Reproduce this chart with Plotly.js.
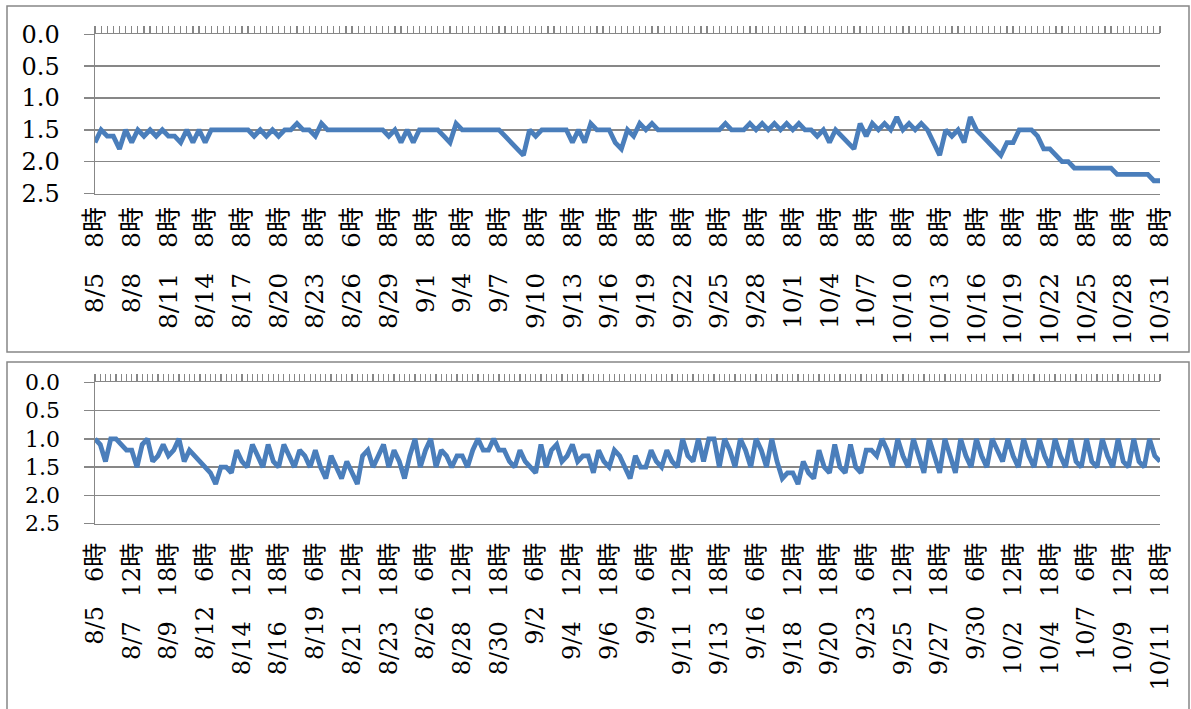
<!DOCTYPE html>
<html>
<head>
<meta charset="utf-8">
<script src="https://cdn.plot.ly/plotly-3.0.1.min.js"></script>
<style>
html, body { margin: 0; padding: 0; background: #ffffff; }
#chart { width: 1191px; height: 709px; }
</style>
</head>
<body>
<div id="chart"></div>
<script>
// ---------- data ----------
const topLabels = [
  "8/5　8時", "8/8　8時", "8/11　8時", "8/14　8時", "8/17　8時", "8/20　8時",
  "8/23　8時", "8/26　6時", "8/29　8時", "9/1　8時", "9/4　8時", "9/7　8時",
  "9/10　8時", "9/13　8時", "9/16　8時", "9/19　8時", "9/22　8時", "9/25　8時",
  "9/28　8時", "10/1　8時", "10/4　8時", "10/7　8時", "10/10　8時", "10/13　8時",
  "10/16　8時", "10/19　8時", "10/22　8時", "10/25　8時", "10/28　8時", "10/31　8時"
];
const topLabelStep = 6;
const topValues = [
  1.7,1.5,1.6,1.6,1.8,1.5,1.7,1.5,1.6,1.5,1.6,1.5,1.6,1.6,1.7,1.5,1.7,1.5,1.7,1.5,
  1.5,1.5,1.5,1.5,1.5,1.5,
  1.6,1.5,1.6,1.5,1.6,1.5,1.5,1.4,1.5,1.5,1.6,1.4,1.5,
  1.5,1.5,1.5,1.5,1.5,1.5,1.5,1.5,1.5,
  1.6,1.5,
  1.7,1.5,1.7,1.5,1.5,1.5,1.5,
  1.6,1.7,1.4,1.5,
  1.5,1.5,1.5,1.5,1.5,1.5,
  1.6,1.7,1.8,1.9,
  1.5,1.6,1.5,
  1.5,1.5,1.5,1.5,
  1.7,1.5,1.7,1.4,1.5,
  1.5,1.5,
  1.7,1.8,1.5,1.6,1.4,1.5,1.4,1.5,
  1.5,1.5,1.5,1.5,1.5,1.5,1.5,1.5,1.5,1.5,
  1.4,1.5,1.5,1.5,1.4,1.5,1.4,1.5,
  1.4,1.5,1.4,1.5,1.4,1.5,1.5,1.6,1.5,1.7,
  1.5,1.6,1.7,1.8,1.4,1.6,1.4,1.5,1.4,1.5,
  1.3,1.5,1.4,1.5,1.4,1.5,1.7,1.9,1.5,1.6,
  1.5,1.7,1.3,1.5,1.6,1.7,1.8,1.9,1.7,1.7,
  1.5,1.5,1.5,1.6,1.8,1.8,1.9,2.0,2.0,2.1,
  2.1,2.1,2.1,2.1,2.1,2.1,2.2,2.2,2.2,2.2,
  2.2,2.2,2.3,2.3
];

const bottomLabels = [
  "8/5　6時", "8/7　12時", "8/9　18時", "8/12　6時", "8/14　12時", "8/16　18時",
  "8/19　6時", "8/21　12時", "8/23　18時", "8/26　6時", "8/28　12時", "8/30　18時",
  "9/2　6時", "9/4　12時", "9/6　18時", "9/9　6時", "9/11　12時", "9/13　18時",
  "9/16　6時", "9/18　12時", "9/20　18時", "9/23　6時", "9/25　12時", "9/27　18時",
  "9/30　6時", "10/2　12時", "10/4　18時", "10/7　6時", "10/9　12時", "10/11　18時"
];
const bottomLabelStep = 7;
const bottomValues = [
  1.0,1.1,1.4,1.0,1.0,1.1,1.2,1.2,1.5,1.1,
  1.0,1.4,1.3,1.1,1.3,1.2,1.0,1.4,1.2,1.3,
  1.4,1.5,1.6,1.8,1.5,1.5,1.6,1.2,1.4,1.5,
  1.1,1.3,1.5,1.1,1.4,1.5,1.1,1.3,1.5,1.2,
  1.3,1.5,1.2,1.5,1.7,1.3,1.5,1.7,1.4,1.6,
  1.8,1.3,1.2,1.5,1.3,1.1,1.5,1.2,1.4,1.7,
  1.3,1.0,1.5,1.2,1.0,1.5,1.2,1.3,1.5,1.3,
  1.3,1.5,1.2,1.0,1.2,1.2,1.0,1.2,1.2,1.4,
  1.5,1.2,1.4,1.5,1.6,1.1,1.5,1.2,1.1,1.4,
  1.3,1.1,1.4,1.3,1.3,1.6,1.2,1.4,1.5,1.2,
  1.3,1.5,1.7,1.3,1.5,1.5,1.2,1.4,1.5,1.2,
  1.4,1.5,1.0,1.3,1.4,1.0,1.4,1.0,1.0,1.5,
  1.0,1.2,1.5,1.0,1.2,1.5,1.0,1.2,1.5,1.0,
  1.4,1.7,1.6,1.6,1.8,1.4,1.6,1.7,1.2,1.5,
  1.6,1.1,1.5,1.6,1.1,1.5,1.6,1.2,1.2,1.3,
  1.0,1.2,1.5,1.0,1.3,1.5,1.0,1.3,1.6,1.0,
  1.3,1.6,1.0,1.3,1.6,1.0,1.3,1.5,1.0,1.3,
  1.5,1.0,1.2,1.4,1.0,1.3,1.5,1.0,1.3,1.5,
  1.0,1.3,1.5,1.0,1.3,1.5,1.0,1.4,1.5,1.0,
  1.4,1.5,1.0,1.3,1.5,1.0,1.4,1.5,1.0,1.4,
  1.5,1.0,1.3,1.4
];

// ---------- drawing ----------
const W = 1191, H = 709;
const px = x => x / W;
const py = y => 1 - y / H;
const serif = 'DejaVu Serif, Noto Sans CJK JP, serif';
const gray = '#878787';
const blue = '#4A7EBB';

const topX = topValues.map((_, i) => i);
const bottomX = bottomValues.map((_, i) => i);
const topTickVals = topLabels.map((_, k) => k * topLabelStep);
const bottomTickVals = bottomLabels.map((_, k) => k * bottomLabelStep);

// axis carrying the line: category tick marks on the top edge (value 0.0 is on top)
function tickAxis(domain, anchor, n) {
  return {
    domain: domain, anchor: anchor, side: 'top', type: 'linear',
    range: [0, n - 1], tickmode: 'linear', tick0: 0, dtick: 1,
    ticks: 'outside', ticklen: 7, tickwidth: 1.2, tickcolor: gray,
    showticklabels: false, showline: true, linecolor: gray, linewidth: 1.5,
    showgrid: false, zeroline: false, fixedrange: true
  };
}
// overlaid axis carrying the rotated labels at the bottom edge
function labelAxis(domain, anchor, overlay, n, tickvals, ticktext, size, standoff) {
  return {
    domain: domain, anchor: anchor, overlaying: overlay, side: 'bottom', type: 'linear',
    range: [0, n - 1], tickmode: 'array', tickvals: tickvals, ticktext: ticktext,
    tickangle: -90, ticks: '', showline: true, linecolor: gray, linewidth: 1.5,
    showgrid: false, zeroline: false,
    tickfont: { family: serif, size: size, color: '#000' },
    ticklabelstandoff: standoff, fixedrange: true
  };
}
function valueAxis(domain, anchor, fontSize) {
  return {
    domain: domain, anchor: anchor, range: [2.5, 0], tickmode: 'linear', tick0: 0, dtick: 0.5,
    tickformat: '.1f', ticks: 'outside', ticklen: 10, tickwidth: 1.5, tickcolor: gray,
    showline: true, linecolor: gray, linewidth: 1.5,
    showgrid: true, gridcolor: gray, gridwidth: 1.5, zeroline: false,
    tickfont: { family: serif, size: fontSize, color: '#000' },
    ticklabelstandoff: 19, fixedrange: true
  };
}

const xDom = [px(95), px(1160)];
const topYDom = [py(193.5), py(34.3)];
const botYDom = [py(523.7), py(382.3)];

const lineStyle = { color: blue, width: 4.8 };
const hidden = { color: 'rgba(0,0,0,0)', width: 0 };
const data = [
  { x: topX, y: topValues, xaxis: 'x', yaxis: 'y', type: 'scatter', mode: 'lines',
    line: lineStyle, hoverinfo: 'skip', showlegend: false },
  { x: topX, y: topValues, xaxis: 'x2', yaxis: 'y', type: 'scatter', mode: 'lines',
    line: hidden, hoverinfo: 'skip', showlegend: false },
  { x: bottomX, y: bottomValues, xaxis: 'x3', yaxis: 'y2', type: 'scatter', mode: 'lines',
    line: lineStyle, hoverinfo: 'skip', showlegend: false },
  { x: bottomX, y: bottomValues, xaxis: 'x4', yaxis: 'y2', type: 'scatter', mode: 'lines',
    line: hidden, hoverinfo: 'skip', showlegend: false }
];

const layout = {
  width: W, height: H,
  margin: { l: 0, r: 0, t: 0, b: 0 },
  paper_bgcolor: '#ffffff', plot_bgcolor: 'rgba(0,0,0,0)',
  font: { family: serif, color: '#000' },
  showlegend: false,
  xaxis: tickAxis(xDom, 'y', topValues.length),
  xaxis2: labelAxis(xDom, 'y', 'x', topValues.length, topTickVals, topLabels, 25, 2),
  yaxis: valueAxis(topYDom, 'x', 24),
  xaxis3: tickAxis(xDom, 'y2', bottomValues.length),
  xaxis4: labelAxis(xDom, 'y2', 'x3', bottomValues.length, bottomTickVals, bottomLabels, 24, 8),
  yaxis2: valueAxis(botYDom, 'x3', 22),
  shapes: [
    { type: 'rect', xref: 'paper', yref: 'paper', x0: px(7), x1: px(1189), y0: py(352), y1: py(6),
      line: { color: gray, width: 1.5 }, fillcolor: 'rgba(0,0,0,0)', layer: 'below' },
    { type: 'rect', xref: 'paper', yref: 'paper', x0: px(7), x1: px(1189), y0: py(740), y1: py(362),
      line: { color: gray, width: 1.5 }, fillcolor: 'rgba(0,0,0,0)', layer: 'below' }
  ]
};

Plotly.newPlot('chart', data, layout, { staticPlot: true, displayModeBar: false });
</script>
</body>
</html>
